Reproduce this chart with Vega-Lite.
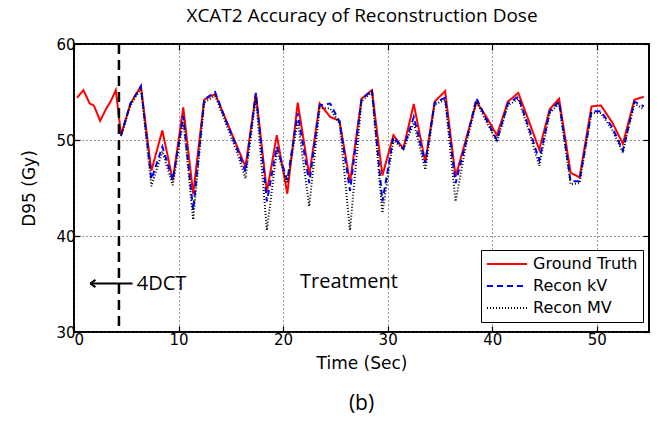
{
  "$schema": "https://vega.github.io/schema/vega-lite/v6.json",
  "width": 575,
  "height": 288,
  "autosize": {"type": "none"},
  "padding": {"left": 74, "top": 44, "right": 8, "bottom": 89},
  "background": "white",
  "config": {
    "view": {"stroke": "black", "strokeWidth": 2},
    "font": "DejaVu Sans",
    "axis": {"labelColor": "black", "titleColor": "black", "tickColor": "black", "titleFontWeight": "normal", "labelFont": "DejaVu Sans", "titleFont": "DejaVu Sans"}
  },
  "title": {"text": "(b)", "orient": "bottom", "font": "Open Sans", "fontSize": 21, "fontWeight": "normal", "color": "black", "offset": 22, "anchor": "middle"},
  "datasets": {
    "dose": [
      {"t": 0.3, "Ground Truth": 54.4},
      {"t": 0.9, "Ground Truth": 55.2},
      {"t": 1.5, "Ground Truth": 53.8},
      {"t": 1.9, "Ground Truth": 53.6},
      {"t": 2.5, "Ground Truth": 52.0},
      {"t": 3.1, "Ground Truth": 53.3},
      {"t": 3.5, "Ground Truth": 54.0},
      {"t": 4.0, "Ground Truth": 55.2},
      {"t": 4.5, "Ground Truth": 50.5, "Recon kV": 50.5, "Recon MV": 50.4},
      {"t": 5.4, "Ground Truth": 53.8, "Recon kV": 53.8, "Recon MV": 53.6},
      {"t": 6.4, "Ground Truth": 55.6, "Recon kV": 55.6, "Recon MV": 55.4},
      {"t": 7.4, "Ground Truth": 46.8, "Recon kV": 45.9, "Recon MV": 45.2},
      {"t": 8.45, "Ground Truth": 51.0, "Recon kV": 49.3, "Recon MV": 48.8},
      {"t": 9.45, "Ground Truth": 45.8, "Recon kV": 45.8, "Recon MV": 45.3},
      {"t": 10.45, "Ground Truth": 53.4, "Recon kV": 52.5, "Recon MV": 52.1},
      {"t": 11.4, "Ground Truth": 44.4, "Recon kV": 42.7, "Recon MV": 41.7},
      {"t": 12.45, "Ground Truth": 54.2, "Recon kV": 54.2, "Recon MV": 53.9},
      {"t": 13.5, "Ground Truth": 54.8, "Recon kV": 55.0, "Recon MV": 54.6},
      {"t": 14.5, "Ground Truth": 52.2, "Recon kV": 52.1, "Recon MV": 51.8},
      {"t": 15.5, "Ground Truth": 49.6, "Recon kV": 49.4, "Recon MV": 49.0},
      {"t": 16.4, "Ground Truth": 47.2, "Recon kV": 46.7, "Recon MV": 46.0},
      {"t": 17.4, "Ground Truth": 54.85, "Recon kV": 54.9, "Recon MV": 54.5},
      {"t": 18.45, "Ground Truth": 44.6, "Recon kV": 43.6, "Recon MV": 40.6},
      {"t": 19.4, "Ground Truth": 50.5, "Recon kV": 49.3, "Recon MV": 48.9},
      {"t": 20.4, "Ground Truth": 44.4, "Recon kV": 45.8, "Recon MV": 45.5},
      {"t": 21.4, "Ground Truth": 53.9, "Recon kV": 52.8, "Recon MV": 52.0},
      {"t": 22.5, "Ground Truth": 46.3, "Recon kV": 45.5, "Recon MV": 43.1},
      {"t": 23.5, "Ground Truth": 53.8, "Recon kV": 53.6, "Recon MV": 53.3},
      {"t": 24.5, "Ground Truth": 52.4, "Recon kV": 53.8, "Recon MV": 53.3},
      {"t": 25.4, "Ground Truth": 52.0, "Recon kV": 51.9, "Recon MV": 51.7},
      {"t": 26.4, "Ground Truth": 45.6, "Recon kV": 44.7, "Recon MV": 40.6},
      {"t": 27.5, "Ground Truth": 54.3, "Recon kV": 54.2, "Recon MV": 54.0},
      {"t": 28.5, "Ground Truth": 55.2, "Recon kV": 55.2, "Recon MV": 55.0},
      {"t": 29.5, "Ground Truth": 46.3, "Recon kV": 43.6, "Recon MV": 42.4},
      {"t": 30.55, "Ground Truth": 50.5, "Recon kV": 50.3, "Recon MV": 50.0},
      {"t": 31.5, "Ground Truth": 49.1, "Recon kV": 49.1, "Recon MV": 49.0},
      {"t": 32.5, "Ground Truth": 53.75, "Recon kV": 52.4, "Recon MV": 51.8},
      {"t": 33.6, "Ground Truth": 47.7, "Recon kV": 47.6, "Recon MV": 46.9},
      {"t": 34.5, "Ground Truth": 54.0, "Recon kV": 53.9, "Recon MV": 53.7},
      {"t": 35.5, "Ground Truth": 55.1, "Recon kV": 54.4, "Recon MV": 54.2},
      {"t": 36.5, "Ground Truth": 46.2, "Recon kV": 45.5, "Recon MV": 43.6},
      {"t": 37.5, "Ground Truth": 50.1, "Recon kV": 49.8, "Recon MV": 49.5},
      {"t": 38.5, "Ground Truth": 54.0, "Recon kV": 54.35, "Recon MV": 54.0},
      {"t": 39.5, "Ground Truth": 52.3, "Recon kV": 52.0, "Recon MV": 51.8},
      {"t": 40.45, "Ground Truth": 50.5, "Recon kV": 50.0, "Recon MV": 49.8},
      {"t": 41.5, "Ground Truth": 54.0, "Recon kV": 53.8, "Recon MV": 53.6},
      {"t": 42.5, "Ground Truth": 54.9, "Recon kV": 54.5, "Recon MV": 54.3},
      {"t": 43.5, "Ground Truth": 52.0, "Recon kV": 51.3, "Recon MV": 51.0},
      {"t": 44.5, "Ground Truth": 49.0, "Recon kV": 47.9, "Recon MV": 47.3},
      {"t": 45.5, "Ground Truth": 53.2, "Recon kV": 53.0, "Recon MV": 52.8},
      {"t": 46.4, "Ground Truth": 54.3, "Recon kV": 54.0, "Recon MV": 53.8},
      {"t": 47.5, "Ground Truth": 46.6, "Recon kV": 45.7, "Recon MV": 45.4},
      {"t": 48.35, "Ground Truth": 46.1, "Recon kV": 45.7, "Recon MV": 45.5},
      {"t": 49.5, "Ground Truth": 53.5, "Recon kV": 53.0, "Recon MV": 52.8},
      {"t": 50.4, "Ground Truth": 53.6, "Recon kV": 53.0, "Recon MV": 52.8},
      {"t": 51.5, "Ground Truth": 51.8, "Recon kV": 51.3, "Recon MV": 51.0},
      {"t": 52.5, "Ground Truth": 49.6, "Recon kV": 48.9, "Recon MV": 48.7},
      {"t": 53.6, "Ground Truth": 54.2, "Recon kV": 54.0, "Recon MV": 53.8},
      {"t": 54.5, "Ground Truth": 54.5, "Recon kV": 53.5, "Recon MV": 53.2}
    ],
    "marker": [{"t": 4.3}],
    "arrow": [{"from": 1.55, "to": 5.6, "v": 35.05}],
    "label4dct": [{"t": 6.0, "v": 35.0, "text": "4DCT"}],
    "labelTreat": [{"t": 26.3, "v": 35.2, "text": "Treatment"}]
  },
  "resolve": {"axis": {"x": "independent", "y": "independent"}},
  "layer": [
    {
      "data": {"name": "dose"},
      "transform": [
        {"fold": ["Ground Truth", "Recon kV", "Recon MV"], "as": ["series", "v"]},
        {"filter": "isValid(datum.v)"}
      ],
      "mark": {"type": "line", "clip": true},
      "encoding": {
        "x": {
          "field": "t", "type": "quantitative",
          "scale": {"domain": [0, 55], "nice": false, "zero": false},
          "axis": {
            "orient": "bottom", "title": "Time (Sec)", "values": [0, 10, 20, 30, 40, 50], "format": "d",
            "grid": true, "gridDash": [1, 3], "gridColor": "#333333", "gridWidth": 1,
            "domain": false, "tickSize": -6, "tickWidth": 1.2, "labelFontSize": 15, "labelPadding": 6,
            "titleFontSize": 17, "titleY": 31, "titleBaseline": "middle"
          }
        },
        "y": {
          "field": "v", "type": "quantitative",
          "scale": {"domain": [30, 60], "nice": false, "zero": false},
          "axis": {
            "orient": "left", "title": "D95 (Gy)", "values": [30, 40, 50, 60],
            "grid": true, "gridDash": [1, 3], "gridColor": "#333333", "gridWidth": 1,
            "domain": false, "tickSize": -6, "tickWidth": 1.2, "labelFontSize": 15, "labelPadding": 5,
            "titleFontSize": 17, "titleX": -45, "titleY": 144, "titleAngle": -90, "titleBaseline": "middle", "titleAlign": "center"
          }
        },
        "color": {
          "field": "series", "type": "nominal",
          "scale": {"domain": ["Ground Truth", "Recon kV", "Recon MV"], "range": ["#ff0000", "#0000ff", "#000000"]},
          "legend": {
            "title": null, "orient": "none", "legendX": 407, "legendY": 206,
            "strokeColor": "black", "fillColor": "white", "padding": 5,
            "symbolType": "stroke", "symbolSize": 1600, "labelFontSize": 16, "labelFont": "DejaVu Sans",
            "labelColor": "black", "rowPadding": 4, "labelOffset": 5, "clipHeight": 18
          }
        },
        "strokeDash": {
          "field": "series", "type": "nominal",
          "scale": {"domain": ["Ground Truth", "Recon kV", "Recon MV"], "range": [[1, 0], [6, 4], [1, 2]]}
        },
        "strokeWidth": {
          "field": "series", "type": "nominal",
          "scale": {"domain": ["Ground Truth", "Recon kV", "Recon MV"], "range": [2, 2, 1.2]}
        }
      }
    },
    {
      "data": {"name": "marker"},
      "mark": {"type": "rule", "color": "black", "strokeWidth": 2.5, "strokeDash": [10, 6]},
      "encoding": {
        "x": {
          "field": "t", "type": "quantitative",
          "axis": {
            "orient": "top", "title": "XCAT2 Accuracy of Reconstruction Dose", "values": [0, 10, 20, 30, 40, 50],
            "labels": false, "grid": false, "domain": false, "tickSize": -6, "tickWidth": 1.2,
            "titleFont": "Open Sans", "titleFontSize": 19, "titleY": -29, "titleBaseline": "middle"
          }
        }
      }
    },
    {
      "data": {"name": "arrow"},
      "mark": {"type": "rule", "color": "black", "strokeWidth": 2},
      "encoding": {
        "x": {"field": "from", "type": "quantitative", "axis": null},
        "x2": {"field": "to"},
        "y": {
          "field": "v", "type": "quantitative",
          "axis": {
            "orient": "right", "title": null, "values": [30, 40, 50, 60],
            "labels": false, "grid": false, "domain": false, "tickSize": -6, "tickWidth": 1.2
          }
        }
      }
    },
    {
      "data": {"name": "arrow"},
      "mark": {"type": "point", "shape": "M0,0L1,-0.7M0,0L1,0.7", "filled": false, "color": "black", "strokeWidth": 2, "size": 110, "opacity": 1},
      "encoding": {
        "x": {"field": "from", "type": "quantitative", "axis": null},
        "y": {"field": "v", "type": "quantitative", "axis": null}
      }
    },
    {
      "data": {"name": "label4dct"},
      "mark": {"type": "text", "font": "Open Sans", "fontSize": 20, "color": "black", "baseline": "middle", "align": "left"},
      "encoding": {
        "x": {"field": "t", "type": "quantitative", "axis": null},
        "y": {"field": "v", "type": "quantitative", "axis": null},
        "text": {"field": "text"}
      }
    },
    {
      "data": {"name": "labelTreat"},
      "mark": {"type": "text", "font": "Open Sans", "fontSize": 20, "color": "black", "baseline": "middle", "align": "center"},
      "encoding": {
        "x": {"field": "t", "type": "quantitative", "axis": null},
        "y": {"field": "v", "type": "quantitative", "axis": null},
        "text": {"field": "text"}
      }
    }
  ]
}
